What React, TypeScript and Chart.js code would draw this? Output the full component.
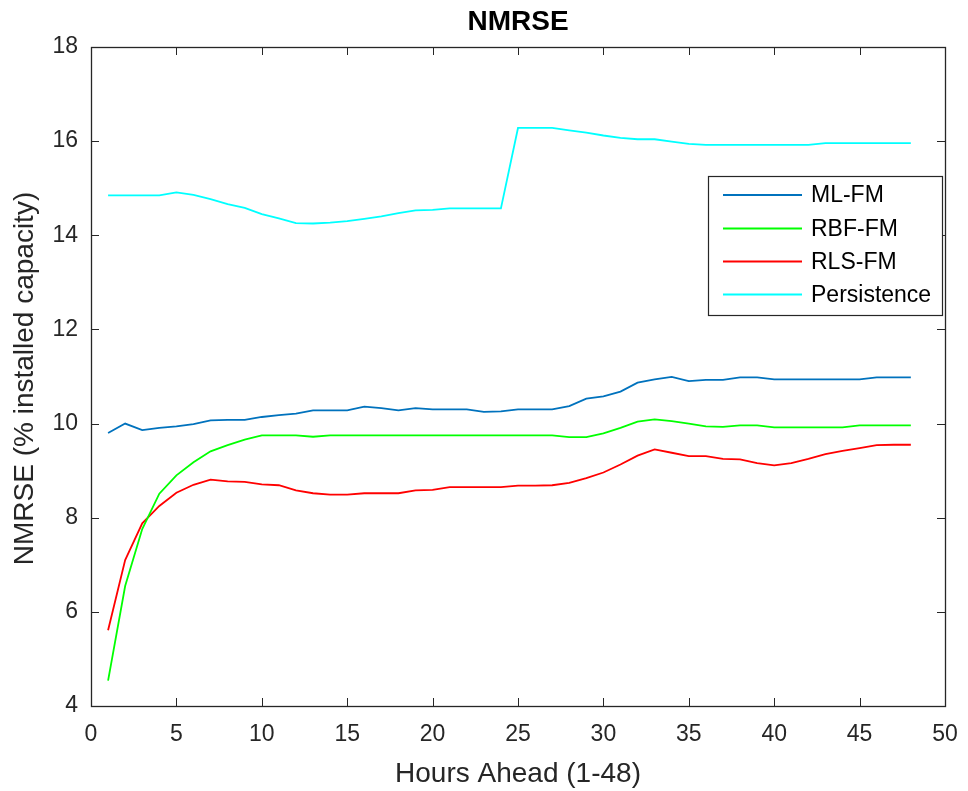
import React, { useEffect, useRef } from "react";
import { Chart, registerables } from "chart.js";

Chart.register(...registerables);

const chartTitle = "NMRSE";
const xTitle = "Hours Ahead (1-48)";
const yTitle = "NMRSE (% installed capacity)";

const hours = [
  1, 2, 3, 4, 5, 6, 7, 8, 9, 10, 11, 12, 13, 14, 15, 16, 17, 18, 19, 20, 21, 22, 23, 24,
  25, 26, 27, 28, 29, 30, 31, 32, 33, 34, 35, 36, 37, 38, 39, 40, 41, 42, 43, 44, 45, 46, 47, 48,
];

const mlFm = [
  9.8, 10.0, 9.86, 9.91, 9.94, 9.99, 10.07, 10.08, 10.08, 10.14, 10.18, 10.21,
  10.28, 10.28, 10.28, 10.36, 10.33, 10.28, 10.33, 10.3, 10.3, 10.3, 10.25, 10.26,
  10.3, 10.3, 10.3, 10.37, 10.53, 10.58, 10.68, 10.87, 10.94, 10.99, 10.9, 10.93,
  10.93, 10.98, 10.98, 10.94, 10.94, 10.94, 10.94, 10.94, 10.94, 10.98, 10.98, 10.98,
];

const rbfFm = [
  4.54, 6.55, 7.76, 8.51, 8.9, 9.18, 9.41, 9.54, 9.66, 9.75, 9.75, 9.75,
  9.72, 9.75, 9.75, 9.75, 9.75, 9.75, 9.75, 9.75, 9.75, 9.75, 9.75, 9.75,
  9.75, 9.75, 9.75, 9.71, 9.71, 9.79, 9.91, 10.04, 10.09, 10.05, 10.0, 9.94,
  9.93, 9.96, 9.96, 9.92, 9.92, 9.92, 9.92, 9.92, 9.96, 9.96, 9.96, 9.96,
];

const rlsFm = [
  5.61, 7.1, 7.88, 8.25, 8.53, 8.7, 8.81, 8.77, 8.76, 8.71, 8.69, 8.58,
  8.52, 8.49, 8.49, 8.52, 8.52, 8.52, 8.58, 8.59, 8.65, 8.65, 8.65, 8.65,
  8.68, 8.68, 8.69, 8.74, 8.84, 8.96, 9.13, 9.32, 9.45, 9.38, 9.31, 9.31,
  9.25, 9.24, 9.16, 9.11, 9.16, 9.25, 9.35, 9.42, 9.48, 9.54, 9.55, 9.55,
];

const persistence = [
  14.85, 14.85, 14.85, 14.85, 14.91, 14.86, 14.77, 14.66, 14.58, 14.45, 14.36, 14.26,
  14.25, 14.27, 14.3, 14.35, 14.4, 14.47, 14.53, 14.54, 14.57, 14.57, 14.57, 14.57,
  16.28, 16.28, 16.28, 16.23, 16.18, 16.12, 16.07, 16.04, 16.04, 15.99, 15.94, 15.92,
  15.92, 15.92, 15.92, 15.92, 15.92, 15.92, 15.96, 15.96, 15.96, 15.96, 15.96, 15.96,
];

const seriesNames = ["ML-FM", "RBF-FM", "RLS-FM", "Persistence"];
const seriesColors = ["#0072BD", "#00FF00", "#FF0000", "#00FFFF"];

const xMin = 0;
const xMax = 50;
const xStep = 5;
const yMin = 4;
const yMax = 18;
const yStep = 2;

const FONT = "'Liberation Sans', Arial, Helvetica, sans-serif";
const AXIS = "#262626";

export default function App() {
  const canvasRef = useRef<HTMLCanvasElement | null>(null);

  useEffect(() => {
    document.body.style.margin = "0";
    const canvas = canvasRef.current;
    if (!canvas) return;

    const seriesValues = [mlFm, rbfFm, rlsFm, persistence];

    const framePlugin = {
      id: "matlabFrame",
      afterDraw(chart: any) {
        const { ctx, chartArea: a, scales } = chart;
        const xs = scales.x;
        const ys = scales.y;
        ctx.save();
        ctx.strokeStyle = AXIS;
        ctx.lineWidth = 1;
        const tl = 8;
        ctx.beginPath();
        xs.ticks.forEach((t: any) => {
          const px = Math.round(xs.getPixelForValue(t.value)) + 0.5;
          ctx.moveTo(px, a.bottom);
          ctx.lineTo(px, a.bottom - tl);
          ctx.moveTo(px, a.top);
          ctx.lineTo(px, a.top + tl);
        });
        ys.ticks.forEach((t: any) => {
          const py = Math.round(ys.getPixelForValue(t.value)) + 0.5;
          ctx.moveTo(a.left, py);
          ctx.lineTo(a.left + tl, py);
          ctx.moveTo(a.right, py);
          ctx.lineTo(a.right - tl, py);
        });
        ctx.stroke();
        ctx.lineWidth = 1.3;
        ctx.strokeRect(
          Math.round(a.left) + 0.5,
          Math.round(a.top) + 0.5,
          Math.round(a.right - a.left),
          Math.round(a.bottom - a.top)
        );

        // titles
        ctx.fillStyle = "#000000";
        ctx.textAlign = "center";
        ctx.textBaseline = "middle";
        ctx.font = `bold 28px ${FONT}`;
        ctx.fillText(chartTitle, (a.left + a.right) / 2, 22);

        ctx.fillStyle = AXIS;
        ctx.font = `28px ${FONT}`;
        ctx.fillText(xTitle, (a.left + a.right) / 2, 774);

        ctx.save();
        ctx.translate(25, (a.top + a.bottom) / 2 + 2);
        ctx.rotate(-Math.PI / 2);
        ctx.fillText(yTitle, 0, 0);
        ctx.restore();

        // legend
        const lx = 708.5;
        const ly = 176.5;
        const lw = 234;
        const lh = 139;
        ctx.fillStyle = "#ffffff";
        ctx.fillRect(lx, ly, lw, lh);
        ctx.strokeStyle = AXIS;
        ctx.lineWidth = 1.2;
        ctx.strokeRect(lx, ly, lw, lh);
        const rows = [195, 228.5, 261.5, 294.5];
        ctx.font = `23px ${FONT}`;
        ctx.textAlign = "left";
        ctx.textBaseline = "middle";
        chart.data.datasets.forEach((ds: any, i: number) => {
          ctx.strokeStyle = ds.borderColor;
          ctx.lineWidth = 2;
          ctx.beginPath();
          ctx.moveTo(723, rows[i]);
          ctx.lineTo(802, rows[i]);
          ctx.stroke();
          ctx.fillStyle = "#000000";
          ctx.fillText(ds.label, 811, rows[i] + 1);
        });
        ctx.restore();
      },
    };

    const chart = new Chart(canvas, {
      type: "line",
      data: {
        datasets: seriesNames.map((name, i) => ({
          label: name,
          data: hours.map((h, j) => ({ x: h, y: seriesValues[i][j] })),
          borderColor: seriesColors[i],
          backgroundColor: seriesColors[i],
          borderWidth: 1.8,
          pointRadius: 0,
          tension: 0,
          fill: false,
        })),
      },
      options: {
        animation: false,
        responsive: false,
        maintainAspectRatio: false,
        layout: { padding: { top: 47, right: 23, left: 0, bottom: 0 } },
        plugins: {
          legend: { display: false },
          tooltip: { enabled: false },
          title: { display: false },
        },
        scales: {
          x: {
            type: "linear",
            min: xMin,
            max: xMax,
            grid: { display: false, drawTicks: false },
            border: { display: false },
            ticks: {
              stepSize: xStep,
              padding: 15,
              color: AXIS,
              font: { family: FONT, size: 23 },
              maxRotation: 0,
            },
            afterFit: (s: any) => {
              s.height = 85;
              s.paddingLeft = 0;
              s.paddingRight = 0;
            },
          },
          y: {
            type: "linear",
            min: yMin,
            max: yMax,
            grid: { display: false, drawTicks: false },
            border: { display: false },
            ticks: {
              stepSize: yStep,
              padding: 13,
              color: AXIS,
              font: { family: FONT, size: 23 },
            },
            afterFit: (s: any) => {
              s.width = 91;
              s.paddingTop = 0;
              s.paddingBottom = 0;
            },
          },
        },
      },
      plugins: [framePlugin],
    });

    return () => chart.destroy();
  }, []);

  return (
    <div style={{ width: 968, height: 791, background: "#ffffff" }}>
      <canvas ref={canvasRef} width={968} height={791} style={{ display: "block" }} />
    </div>
  );
}
